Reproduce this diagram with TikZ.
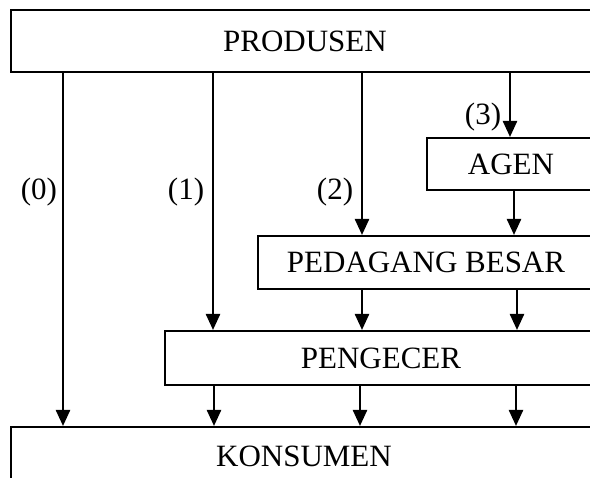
\documentclass[tikz,border=0pt]{standalone}
\usepackage{fontspec}
\setmainfont{Liberation Serif}
\usetikzlibrary{arrows.meta}
\begin{document}
\begin{tikzpicture}[x=1pt,y=-1pt,
  every node/.style={font=\fontsize{31}{36}\selectfont},
  level/.style={draw, line width=2pt, rectangle, inner sep=0pt},
  flow/.style={line width=2.4pt, -{Triangle[length=16pt,width=14pt]}},
  tag/.style={inner sep=0pt}]
  % frame of the page
  \fill[white] (0,0) rectangle (590,478);
  \clip (0,0) rectangle (590,478);

  % distribution levels
  \node[level, minimum width=588pt, minimum height=62pt] (prod) at (305,41) {PRODUSEN};
  \node[level, minimum width=168pt, minimum height=52pt] (agen) at (511,164) {AGEN};
  \node[level, minimum width=336pt, minimum height=53pt] (pb) at (426,262.5) {PEDAGANG BESAR};
  \node[level, minimum width=432pt, minimum height=54pt] (peng) at (381,358) {PENGECER};
  \node[level, minimum width=586pt, minimum height=58pt] (kons) at (304,456) {KONSUMEN};

  % channel labels
  \node[tag] (l0) at (39,192) {(0)};
  \node[tag] (l1) at (186,192) {(1)};
  \node[tag] (l2) at (335,192) {(2)};
  \node[tag] (l3) at (483,117) {(3)};

  % channel (0)
  \draw[flow] (prod.south -| 63,0) -- (kons.north -| 63,0);
  % channel (1)
  \draw[flow] (prod.south -| 213,0) -- (peng.north -| 213,0);
  \draw[flow] (peng.south -| 214,0) -- (kons.north -| 214,0);
  % channel (2)
  \draw[flow] (prod.south -| 362,0) -- (pb.north -| 362,0);
  \draw[flow] (pb.south -| 362,0) -- (peng.north -| 362,0);
  \draw[flow] (peng.south -| 360,0) -- (kons.north -| 360,0);
  % channel (3)
  \draw[flow] (prod.south -| 510,0) -- (agen.north -| 510,0);
  \draw[flow] (agen.south -| 514,0) -- (pb.north -| 514,0);
  \draw[flow] (pb.south -| 517,0) -- (peng.north -| 517,0);
  \draw[flow] (peng.south -| 516,0) -- (kons.north -| 516,0);
\end{tikzpicture}
\end{document}
